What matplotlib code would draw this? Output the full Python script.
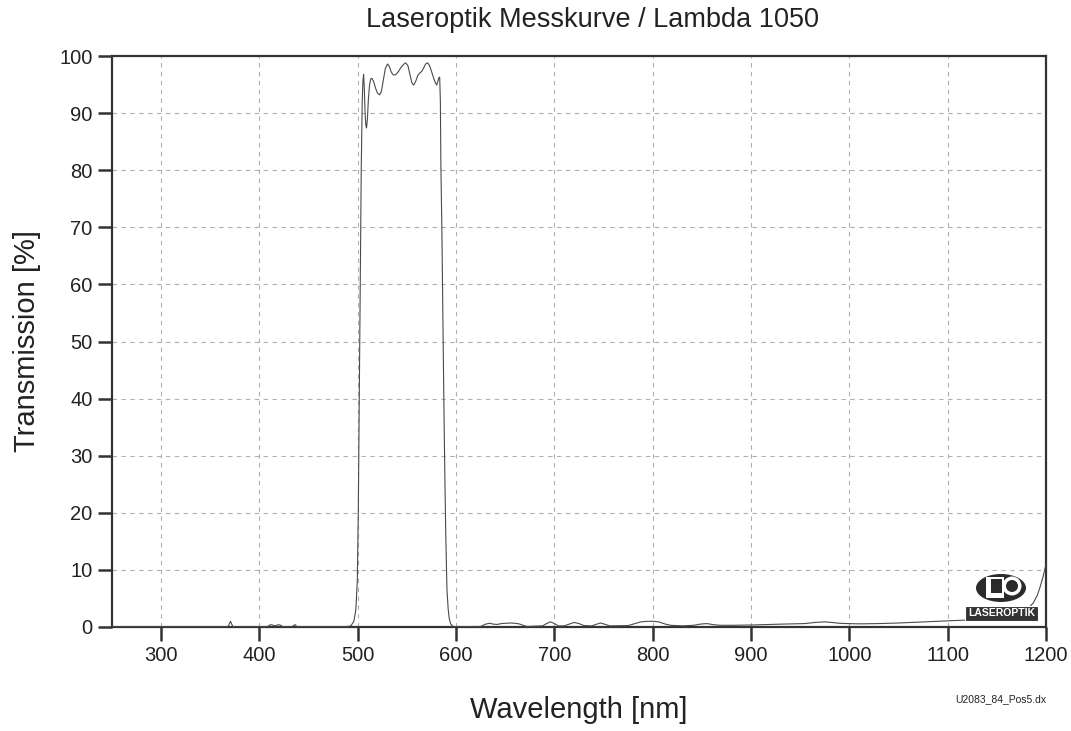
"""Laseroptik transmission curve, Lambda 1050 measurement."""

import matplotlib

matplotlib.use("Agg")

import matplotlib.pyplot as plt
from matplotlib.patches import Ellipse, Rectangle

plt.rcParams["font.family"] = ["Liberation Sans", "DejaVu Sans"]

BASELINE_UV = [
    (250, 0.05), (300, 0.05), (360, 0.05), (368, 0.05), (369.5, 0.6), (370.5, 1.0),
    (371.5, 0.6), (373, 0.05), (400, 0.05), (408, 0.05), (411, 0.4), (413, 0.35),
    (416, 0.2), (419, 0.4), (421, 0.35), (424, 0.05), (433, 0.05), (435, 0.3),
    (436.5, 0.4), (438, 0.05), (460, 0.05), (485, 0.05),
]
RISING_EDGE = [
    (490, 0.1), (493, 0.2), (496, 1.0), (498, 3.0), (499.5, 8.0), (500.5, 20.0),
    (501.5, 40.0), (502.5, 60.0), (503.5, 80.0), (504.5, 92.0), (505.2, 95.5),
]
PASSBAND = [
    (505.9, 96.8), (506.6, 94.5), (507.4, 90.0), (508.2, 87.8), (508.9, 87.4),
    (509.8, 89.0), (510.8, 92.5), (512, 95.0), (513.2, 96.0), (514.2, 96.1),
    (516, 95.6), (518, 94.4), (520, 93.5), (522.2, 93.2), (524, 93.8), (526, 95.8),
    (528, 97.8), (530.3, 98.6), (532, 98.2), (534, 97.2), (536, 96.7), (538.5, 96.7),
    (541, 97.2), (544, 98.0), (547, 98.6), (548.7, 98.8), (551, 98.3), (553, 96.8),
    (555, 95.3), (556.8, 94.9), (559, 95.6), (561, 96.6), (563, 97.0), (565, 97.3),
    (567, 97.9), (569, 98.6), (571.1, 98.8), (573, 98.3), (575, 97.3), (577, 96.2),
    (579, 95.3), (580.3, 94.9), (581.5, 95.6), (582.5, 96.2), (583.3, 96.3),
]
FALLING_EDGE = [
    (584, 92.0), (584.5, 81.0), (585.5, 70.0), (586.5, 55.0), (587.5, 40.0),
    (588.5, 27.0), (589.5, 16.0), (590.7, 6.5), (592, 3.0), (593, 1.5), (594.5, 0.5),
    (597, 0.1),
]
BASELINE_IR = [
    (600, 0.05), (625, 0.1), (630, 0.5), (634, 0.65), (638, 0.5), (642, 0.45),
    (646, 0.6), (650, 0.65), (655, 0.7), (660, 0.65), (664, 0.55), (668, 0.3),
    (672, 0.1), (688, 0.2), (692, 0.6), (696, 0.9), (700, 0.6), (704, 0.2), (710, 0.2),
    (715, 0.5), (720, 0.8), (725, 0.6), (730, 0.25), (738, 0.2), (743, 0.5), (747, 0.7),
    (751, 0.5), (756, 0.2), (775, 0.25), (782, 0.6), (788, 0.9), (795, 1.0), (800, 1.0),
    (806, 0.9), (812, 0.55), (818, 0.3), (830, 0.2), (842, 0.3), (848, 0.5), (855, 0.6),
    (862, 0.4), (868, 0.3), (880, 0.3), (900, 0.35), (930, 0.5), (955, 0.6), (965, 0.8),
    (975, 0.9), (982, 0.8), (990, 0.65), (998, 0.6), (1010, 0.55), (1030, 0.6),
    (1050, 0.7), (1070, 0.85), (1090, 1.0), (1110, 1.15), (1130, 1.3), (1150, 1.5),
    (1165, 1.8), (1175, 2.4), (1182, 3.3), (1187, 4.2), (1191, 5.5), (1194, 7.0),
    (1197, 8.8), (1200, 11.0),
]

X_TICKS = [300, 400, 500, 600, 700, 800, 900, 1000, 1100, 1200]
Y_TICKS = [0, 10, 20, 30, 40, 50, 60, 70, 80, 90, 100]

SPINE = "#333333"


def draw_logo(fig):
    fw, fh = 1071.0, 731.0
    tf = fig.transFigure
    fig.add_artist(Ellipse((1001 / fw, 1 - 588 / fh), 50 / fw, 28 / fh, transform=tf,
                           facecolor="#2b2b2b", edgecolor="none", zorder=5))
    fig.add_artist(Ellipse((1012 / fw, 1 - 586 / fh), 19 / fw, 19 / fh, transform=tf,
                           facecolor="white", edgecolor="none", zorder=6))
    fig.add_artist(Ellipse((1012 / fw, 1 - 586 / fh), 12 / fw, 12 / fh, transform=tf,
                           facecolor="#2b2b2b", edgecolor="none", zorder=7))
    fig.add_artist(Rectangle((986 / fw, 1 - 598 / fh), 18 / fw, 21 / fh, transform=tf,
                             facecolor="white", edgecolor="none", zorder=6))
    fig.add_artist(Rectangle((991 / fw, 1 - 593 / fh), 11 / fw, 14 / fh, transform=tf,
                             facecolor="#2b2b2b", edgecolor="none", zorder=7))
    fig.add_artist(Rectangle((965 / fw, 1 - 621 / fh), 73 / fw, 15 / fh, transform=tf,
                             facecolor="#333333", edgecolor="white", linewidth=0.8,
                             zorder=6))
    fig.text(1001.5 / fw, 1 - 613.5 / fh, "LASEROPTIK", color="white", fontsize=7.5,
             fontweight="bold", ha="center", va="center", zorder=8)


def main() -> None:
    points = BASELINE_UV + RISING_EDGE + PASSBAND + FALLING_EDGE + BASELINE_IR
    wavelength = [p[0] for p in points]
    transmission = [p[1] for p in points]

    fig = plt.figure(figsize=(10.71, 7.31), dpi=100)
    ax = fig.add_axes([112 / 1071, 1 - 627 / 731, (1046 - 112) / 1071, (627 - 56) / 731])

    ax.plot(wavelength, transmission, color="#4a4a4a", linewidth=0.8, zorder=3)

    ax.set_xlim(250, 1200)
    ax.set_ylim(0, 100)
    ax.set_xticks(X_TICKS)
    ax.set_yticks(Y_TICKS)
    ax.grid(True, color="#b0b0b0", linestyle=(0, (4, 4)), linewidth=0.8)
    for spine in ax.spines.values():
        spine.set_color(SPINE)
        spine.set_linewidth(1.6)
    ax.tick_params(direction="out", length=10, width=1.8, color=SPINE,
                   labelsize=14.5, labelcolor="#222222", pad=4)

    ax.set_xlabel("Wavelength [nm]", fontsize=21, color="#222222", labelpad=22)
    ax.set_ylabel("Transmission [%]", fontsize=21, color="#222222", labelpad=13)
    fig.text(593 / 1071, 1 - 20 / 731, "Laseroptik Messkurve / Lambda 1050",
             fontsize=19.5, color="#222222", ha="center", va="center")
    fig.text(1046 / 1071, 1 - 699 / 731, "U2083_84_Pos5.dx", fontsize=7.5,
             color="#222222", ha="right", va="center")

    draw_logo(fig)

    fig.savefig("out.png", dpi=100, facecolor="white")
    plt.close(fig)


if __name__ == "__main__":
    main()
